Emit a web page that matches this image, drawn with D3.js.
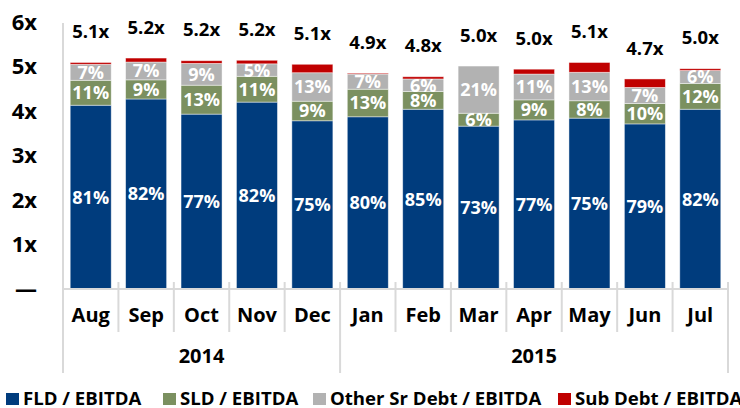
<!DOCTYPE html>
<html>
<head>
<meta charset="utf-8">
<script src="https://cdn.jsdelivr.net/npm/d3@7"></script>
<style>
  html, body { margin: 0; padding: 0; background: #fff; }
  svg { display: block; font-family: "Open Sans", sans-serif; font-weight: bold; }
</style>
</head>
<body>
<svg id="chart" width="740" height="408"></svg>
<script>
// ---- data ----
const months = ["Aug","Sep","Oct","Nov","Dec","Jan","Feb","Mar","Apr","May","Jun","Jul"];
const years = [{label: "2014", from: 0, to: 5}, {label: "2015", from: 5, to: 12}];
const fld   = [4.13, 4.27, 3.93, 4.20, 3.78, 3.87, 4.04, 3.66, 3.80, 3.84, 3.71, 4.04];
const sld   = [0.56, 0.43, 0.65, 0.58, 0.44, 0.62, 0.40, 0.29, 0.45, 0.39, 0.46, 0.58];
const other = [0.36, 0.40, 0.49, 0.28, 0.64, 0.34, 0.28, 1.06, 0.58, 0.64, 0.36, 0.29];
const sub   = [0.04, 0.09, 0.06, 0.08, 0.19, 0.02, 0.05, 0.00, 0.11, 0.22, 0.19, 0.04];
const fldPct   = ["81%","82%","77%","82%","75%","80%","85%","73%","77%","75%","79%","82%"];
const sldPct   = ["11%","9%","13%","11%","9%","13%","8%","6%","9%","8%","10%","12%"];
const otherPct = ["7%","7%","9%","5%","13%","7%","6%","21%","11%","13%","7%","6%"];
const totalLabels = ["5.1x","5.2x","5.2x","5.2x","5.1x","4.9x","4.8x","5.0x","5.0x","5.1x","4.7x","5.0x"];
const yTicks = [0, 1, 2, 3, 4, 5, 6];
const yTickLabels = ["\u2014", "1x", "2x", "3x", "4x", "5x", "6x"];
const seriesNames = ["FLD / EBITDA", "SLD / EBITDA", "Other Sr Debt / EBITDA", "Sub Debt / EBITDA"];
const seriesColors = ["#003C7D", "#7B9060", "#B2B2B2", "#C00000"];

// ---- layout ----
const svg = d3.select("#chart");
const left = 63, right = 728, baseY = 289, topY = 22;
const x = d3.scaleBand().domain(months).range([left, right]).paddingInner(0.26).paddingOuter(0.13);
const y = d3.scaleLinear().domain([0, 6]).range([baseY, topY]);
const step = x.step();

const seriesLabels = [fldPct, sldPct, otherPct, null];

// stacked data
const rows = months.map((m, i) => ({month: m, s0: fld[i], s1: sld[i], s2: other[i], s3: sub[i]}));
const stack = d3.stack().keys(["s0","s1","s2","s3"]);
const stacked = stack(rows);

const gBars = svg.append("g");
stacked.forEach((layer, li) => {
  gBars.selectAll(null).data(layer).enter().append("rect")
    .attr("x", d => x(d.data.month))
    .attr("width", x.bandwidth())
    .attr("y", d => y(d[1]))
    .attr("height", d => Math.max(0, y(d[0]) - y(d[1])))
    .attr("fill", seriesColors[li])
    .attr("stroke", "rgba(255,255,255,0.55)")
    .attr("stroke-width", 0.8);
});

// segment labels
stacked.forEach((layer, li) => {
  const labs = seriesLabels[li];
  if (!labs) return;
  gBars.selectAll(null).data(layer).enter().append("text")
    .attr("x", d => x(d.data.month) + x.bandwidth() / 2)
    .attr("y", d => (y(d[0]) + y(d[1])) / 2)
    .attr("dy", "0.36em")
    .attr("text-anchor", "middle")
    .attr("fill", "#fff")
    .attr("font-size", 18)
    .text((d, i) => labs[i]);
});

// totals
const totals = rows.map(r => r.s0 + r.s1 + r.s2 + r.s3);
svg.append("g").selectAll("text").data(months).enter().append("text")
  .attr("x", d => x(d) + x.bandwidth() / 2)
  .attr("y", (d, i) => y(totals[i]) - 31)
  .attr("dy", "0.36em")
  .attr("text-anchor", "middle")
  .attr("fill", "#000")
  .attr("font-size", 18.5)
  .text((d, i) => totalLabels[i]);

// y axis labels
svg.append("g").selectAll("text").data(yTicks).enter().append("text")
  .attr("x", 37)
  .attr("y", d => y(d))
  .attr("dy", "0.36em")
  .attr("text-anchor", "end")
  .attr("fill", "#000")
  .attr("font-size", 22)
  .text((d, i) => yTickLabels[i]);

// axis lines
const axisColor = "#D9D9D9";
const gAxis = svg.append("g").attr("stroke", axisColor).attr("stroke-width", 2);
gAxis.append("line").attr("x1", left).attr("x2", left).attr("y1", 23).attr("y2", 373);
gAxis.append("line").attr("x1", left).attr("x2", right).attr("y1", baseY).attr("y2", baseY);
const bounds = d3.range(months.length + 1);
const yearBounds = new Set(years.flatMap(yr => [yr.from, yr.to]));
gAxis.selectAll(null).data(bounds.filter(b => b > 0)).enter().append("line")
  .attr("x1", b => left + b * step).attr("x2", b => left + b * step)
  .attr("y1", 282)
  .attr("y2", b => yearBounds.has(b) ? 373 : 332);

// month labels
svg.append("g").selectAll("text").data(months).enter().append("text")
  .attr("x", d => x(d) + x.bandwidth() / 2)
  .attr("y", 315)
  .attr("dy", "0.36em")
  .attr("text-anchor", "middle")
  .attr("fill", "#000")
  .attr("font-size", 20)
  .text(d => d);

// year labels
svg.append("g").selectAll("text").data(years).enter().append("text")
  .attr("x", d => left + (d.from + d.to) / 2 * step)
  .attr("y", 356)
  .attr("dy", "0.36em")
  .attr("text-anchor", "middle")
  .attr("fill", "#000")
  .attr("font-size", 20)
  .text(d => d.label);

// legend
const legendX = [6, 163, 313, 558];
const gLeg = svg.append("g");
seriesNames.forEach((name, i) => {
  gLeg.append("rect").attr("x", legendX[i]).attr("y", 393).attr("width", 13).attr("height", 12)
    .attr("fill", seriesColors[i]);
  gLeg.append("text").attr("x", legendX[i] + 17).attr("y", 398.5).attr("dy", "0.36em")
    .attr("fill", "#000").attr("font-size", 18.6).text(name);
});
</script>
</body>
</html>
